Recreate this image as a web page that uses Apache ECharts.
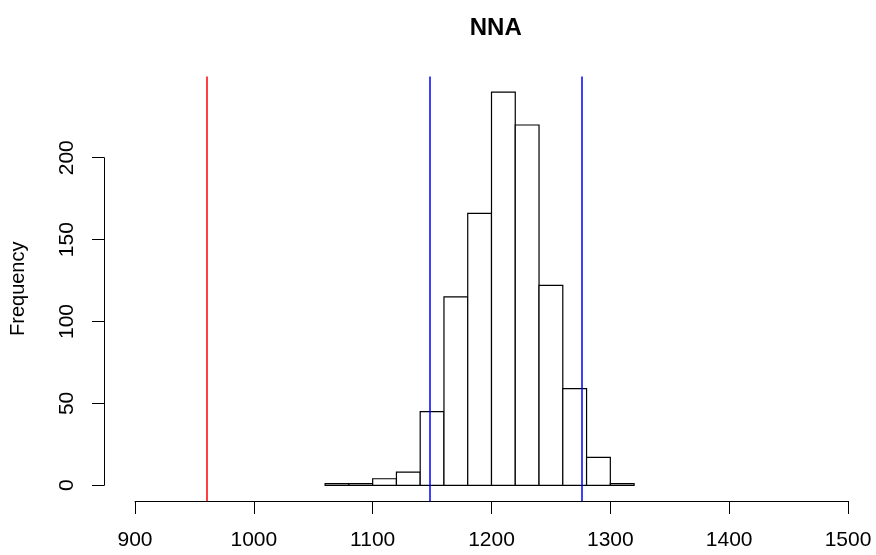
<!DOCTYPE html>
<html>
<head>
<meta charset="utf-8">
<script src="https://cdn.jsdelivr.net/npm/echarts@6/dist/echarts.min.js"></script>
<style>
html,body{margin:0;padding:0;background:#fff;}
#chart{width:876px;height:555px;}
</style>
</head>
<body>
<div id="chart"></div>
<script>
// Data
const titleText = 'NNA';
const yAxisName = 'Frequency';
const binBreaks = [1060,1080,1100,1120,1140,1160,1180,1200,1220,1240,1260,1280,1300,1320];
const binCounts = [1,1,4,8,45,115,166,240,220,122,59,17,1];
const redLines = [960];
const blueLines = [1148, 1276];
const xMin = 900, xMax = 1500, xStep = 100;
const yTickMin = 0, yTickMax = 200, yStep = 50;

const FONT = '"Liberation Sans", Arial, Helvetica, sans-serif';

// R-like plot region (y range expanded by 4%)
const yDataMax = Math.max.apply(null, binCounts);
const yLo = -0.04 * yDataMax, yHi = yDataMax * 1.04;
const plotTop = 76.5, plotBottom = 501;
const pxPerUnit = (plotBottom - plotTop) / (yHi - yLo);
const y0px = plotBottom + yLo * pxPerUnit;
const y200px = y0px - (yTickMax - yTickMin) * pxPerUnit;
const H = 555;
const gridLeft = 133.5, gridRight = 28;

const histData = binCounts.map((c, i) => [binBreaks[i], binBreaks[i + 1], c]);

const markData = redLines.map(v => ({xAxis: v, lineStyle: {color: '#ff0000', width: 1.5, type: 'solid', opacity: 1}}))
  .concat(blueLines.map(v => ({xAxis: v, lineStyle: {color: '#0000ff', width: 1.5, type: 'solid', opacity: 1}})));

const chart = echarts.init(document.getElementById('chart'), null, {renderer: 'canvas'});
chart.setOption({
  animation: false,
  backgroundColor: '#ffffff',
  textStyle: {fontFamily: FONT},
  title: {
    text: titleText,
    left: (gridLeft + (876 - gridRight)) / 2,
    textAlign: 'center',
    top: 11,
    textStyle: {fontFamily: FONT, fontSize: 24, fontWeight: 'bold', color: '#000'}
  },
  grid: [
    {left: gridLeft, right: gridRight, top: plotTop, bottom: H - plotBottom},
    {left: gridLeft, right: gridRight, top: y200px, bottom: H - y0px}
  ],
  xAxis: [
    {
      gridIndex: 0, type: 'value', min: xMin, max: xMax, interval: xStep,
      axisLine: {show: true, onZero: false, lineStyle: {color: '#000', width: 1}},
      axisTick: {show: true, length: 13, lineStyle: {color: '#000', width: 1}},
      axisLabel: {show: true, margin: 29, fontSize: 21, color: '#000', fontFamily: FONT,
        showMinLabel: true, showMaxLabel: true, formatter: v => String(v)},
      splitLine: {show: false}
    },
    {
      gridIndex: 1, type: 'value', min: xMin, max: xMax, show: false
    }
  ],
  yAxis: [
    {
      gridIndex: 0, type: 'value', min: yLo, max: yHi,
      axisLine: {show: false, onZero: false}, axisTick: {show: false}, axisLabel: {show: false},
      splitLine: {show: false},
      name: yAxisName, nameLocation: 'middle', nameGap: 107, nameRotate: 90,
      nameTextStyle: {fontFamily: FONT, fontSize: 20, color: '#000'}
    },
    {
      gridIndex: 1, type: 'value', min: yTickMin, max: yTickMax, interval: yStep,
      offset: gridLeft - 104,
      axisLine: {show: true, onZero: false, lineStyle: {color: '#000', width: 1}},
      axisTick: {show: true, length: 12, lineStyle: {color: '#000', width: 1}},
      axisLabel: {show: true, rotate: 90, margin: 26, fontSize: 21, color: '#000', fontFamily: FONT,
        showMinLabel: true, showMaxLabel: true, formatter: v => String(v)},
      splitLine: {show: false}
    }
  ],
  series: [
    {
      type: 'custom',
      xAxisIndex: 0, yAxisIndex: 0,
      data: histData,
      encode: {x: [0, 1], y: 2},
      silent: true,
      renderItem: function (params, api) {
        const a = api.coord([api.value(0), api.value(2)]);
        const b = api.coord([api.value(1), 0]);
        return {
          type: 'rect',
          shape: {x: a[0], y: a[1], width: b[0] - a[0], height: b[1] - a[1]},
          style: {fill: '#ffffff', stroke: '#000000', lineWidth: 1.2}
        };
      },
      markLine: {
        silent: true,
        symbol: ['none', 'none'],
        label: {show: false},
        animation: false,
        emphasis: {disabled: true},
        data: markData
      }
    }
  ]
});
</script>
</body>
</html>
